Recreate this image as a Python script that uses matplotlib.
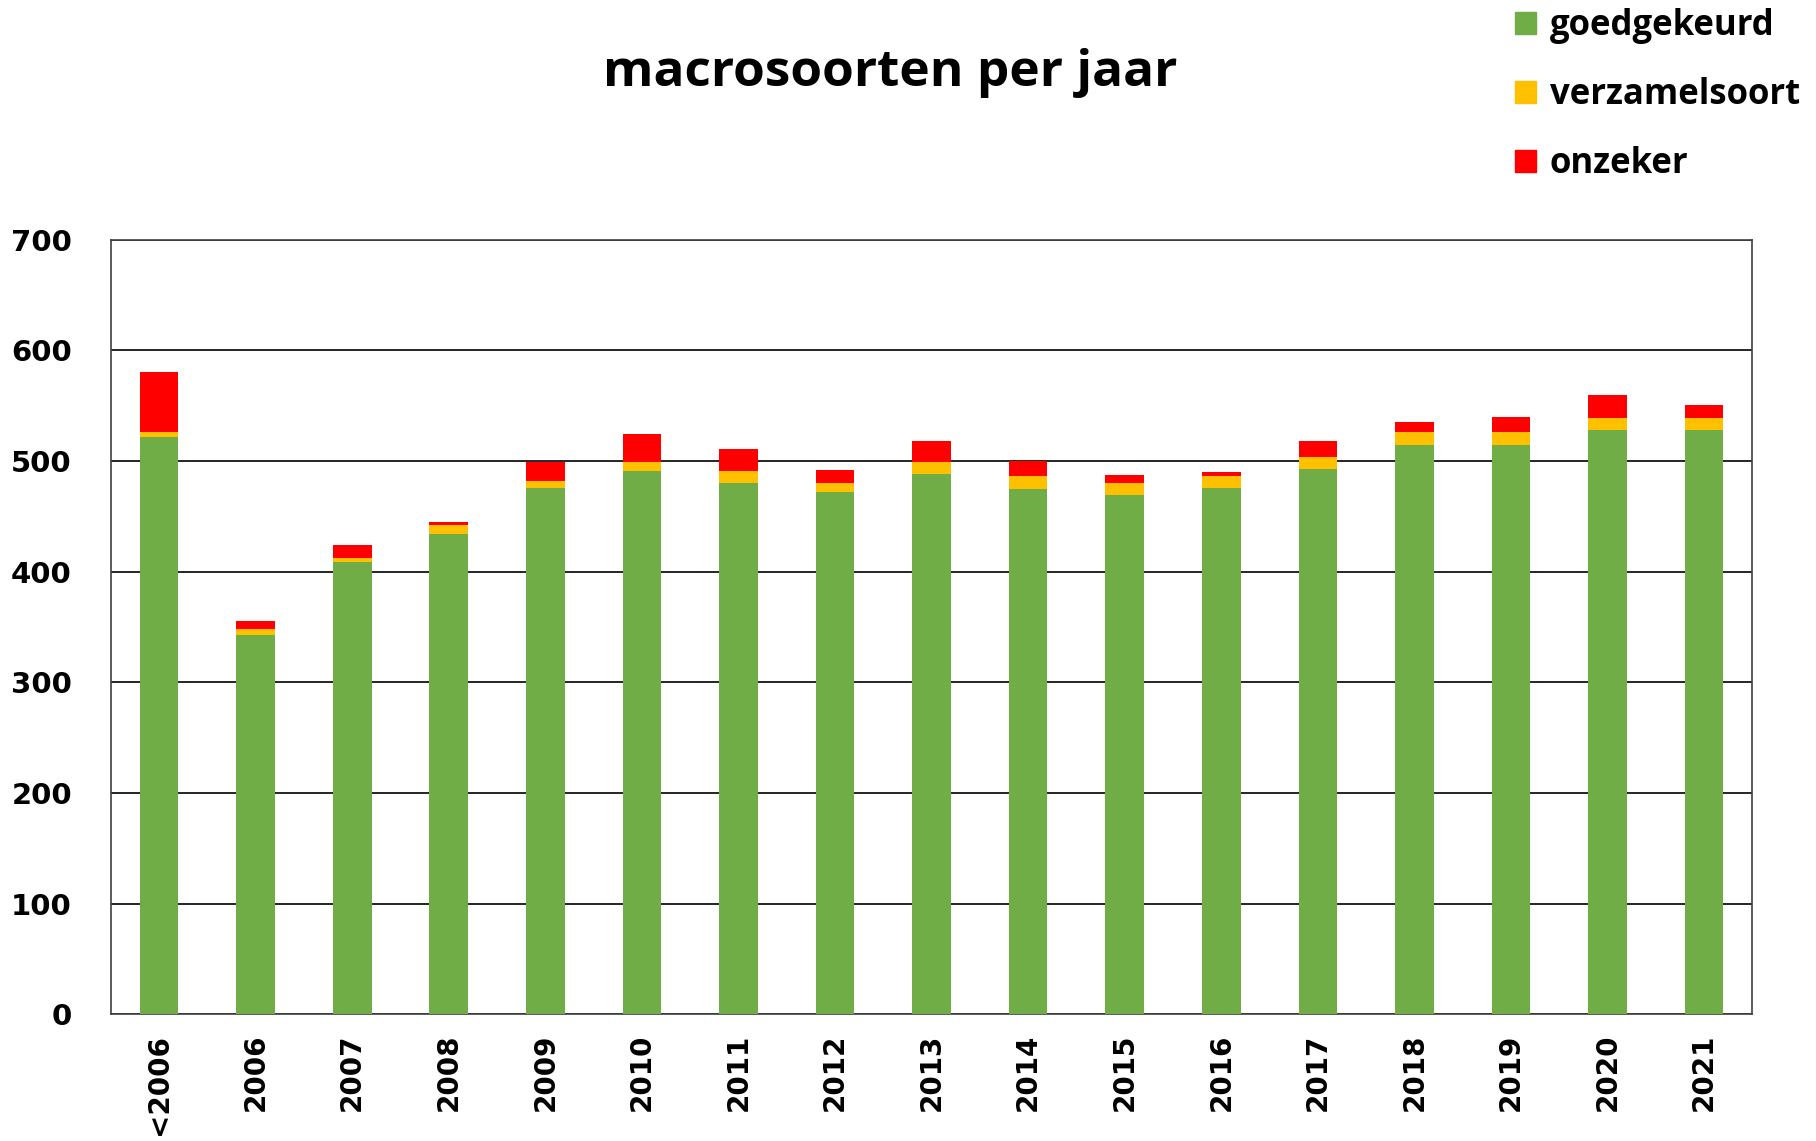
import numpy as np
import matplotlib
matplotlib.use("Agg")
import matplotlib.pyplot as plt
from matplotlib.patches import Patch

plt.rcParams["font.family"] = ["Open Sans", "DejaVu Sans"]
plt.rcParams["font.weight"] = "bold"

# categories and the three stacked series
jaren = ["<2006", "2006", "2007", "2008", "2009", "2010", "2011", "2012", "2013",
         "2014", "2015", "2016", "2017", "2018", "2019", "2020", "2021"]
goedgekeurd = [522, 343, 409, 434, 476, 491, 480, 472, 488, 475, 469, 476, 493, 514, 514, 528, 528]
verzamelsoort = [4, 5, 3, 8, 6, 8, 11, 8, 11, 11, 11, 10, 11, 12, 12, 11, 11]
onzeker = [54, 7, 12, 3, 17, 25, 20, 12, 19, 14, 7, 4, 14, 9, 14, 21, 12]

groen = "#70AD47"
geel = "#FFC000"
rood = "#FF0000"

fig = plt.figure(figsize=(18.16, 11.41), dpi=100)
ax = fig.add_axes([0.061, 0.111, 0.904, 0.679])

x = np.arange(len(jaren))
b1 = np.array(goedgekeurd)
b2 = b1 + np.array(verzamelsoort)
ax.bar(x, goedgekeurd, width=0.4, color=groen, zorder=3)
ax.bar(x, verzamelsoort, width=0.4, bottom=b1, color=geel, zorder=3)
ax.bar(x, onzeker, width=0.4, bottom=b2, color=rood, zorder=3)

ax.set_ylim(0, 700)
ax.set_xlim(-0.5, len(jaren) - 0.5)
ax.set_yticks(range(0, 701, 100))
ax.yaxis.grid(True, color="black", linewidth=1.2, zorder=0)
ax.set_axisbelow(True)
for s in ax.spines.values():
    s.set_color("#404040")
    s.set_linewidth(1.2)

# tick labels in a wide bold face (Verdana-like)
ax.set_xticks(x)
ax.set_xticklabels(jaren, rotation=90, fontsize=20, fontweight="bold",
                   family="DejaVu Sans")
ax.tick_params(axis="x", length=0, pad=14)
for lab in ax.get_yticklabels():
    lab.set_fontsize(21)
    lab.set_fontweight("bold")
    lab.set_family("DejaVu Sans")
ax.tick_params(axis="y", length=0, pad=28)

fig.text(0.49, 0.936, "macrosoorten per jaar", ha="center", va="center",
         fontsize=37, fontweight="bold")

handles = [Patch(color=groen, label="goedgekeurd"),
           Patch(color=geel, label="verzamelsoort"),
           Patch(color=rood, label="onzeker")]
fig.legend(handles=handles, loc="upper left", bbox_to_anchor=(0.817, 1.02),
           frameon=False, prop={"size": 25, "weight": "bold"},
           handlelength=0.6, handleheight=0.6, handletextpad=0.4,
           labelspacing=0.95)

fig.savefig("out.png", dpi=100)
